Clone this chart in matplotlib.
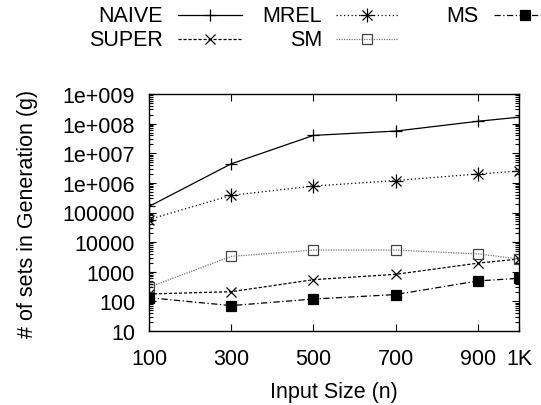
import matplotlib
matplotlib.use("Agg")
import matplotlib.pyplot as plt
from matplotlib.lines import Line2D
from matplotlib.ticker import LogLocator, NullFormatter, FixedLocator

plt.rcParams["font.family"] = ["Liberation Sans", "DejaVu Sans"]

# ── data ──────────────────────────────────────────────
sizes = [100, 300, 500, 700, 900, 1000]
size_labels = ["100", "300", "500", "700", "900", "1K"]

naive = [1.6e5, 4.4e6, 4.0e7, 5.6e7, 1.2e8, 1.65e8]
superr = [178, 212, 540, 820, 1950, 2700]
mrel = [5.8e4, 3.8e5, 7.8e5, 1.2e6, 2.0e6, 2.5e6]
sm = [300, 3300, 5400, 5400, 4000, 2700]
ms = [133, 72, 120, 170, 490, 600]

W, H = 541, 406
FS = 15.5

fig = plt.figure(figsize=(W / 100, H / 100), dpi=100)
ax = fig.add_axes([149 / W, 1 - 332 / H, 370 / W, 237 / H])

styles = {
    "NAIVE": dict(color="black", ls="-", marker="+", ms=9, mfc="none"),
    "SUPER": dict(color="black", ls=(0, (2.5, 1.5)), marker="x", ms=7, mfc="none"),
    "MREL": dict(color="black", ls=(0, (1, 2)), marker="+", ms=10, mfc="none"),
    "SM": dict(color="#777777", ls=(0, (1, 1)), marker="s", ms=7.5, mfc="none",
               mec="#444444"),
    "MS": dict(color="black", ls=(0, (5, 2, 1, 2)), marker="s", ms=7.5, mfc="black"),
}
series = {"NAIVE": naive, "SUPER": superr, "MREL": mrel, "SM": sm, "MS": ms}

for name, vals in series.items():
    st = dict(styles[name])
    ax.plot(sizes, vals, lw=0.9, mew=0.9, **st)
    if name == "MREL":
        # gnuplot star = plus + cross
        ax.plot(sizes, vals, ls="none", marker="x", ms=7, color="black", mew=0.9)

ax.set_yscale("log")
ax.set_ylim(10, 1e9)
ax.set_xlim(100, 1000)
ax.set_yticks([10 ** k for k in range(1, 10)])
ax.set_yticklabels(["10", "100", "1000", "10000", "100000",
                    "1e+006", "1e+007", "1e+008", "1e+009"])
ax.yaxis.set_minor_locator(LogLocator(base=10, subs=range(2, 10), numticks=20))
ax.yaxis.set_minor_formatter(NullFormatter())
ax.xaxis.set_major_locator(FixedLocator(sizes))
ax.set_xticklabels(size_labels)

ax.tick_params(which="both", direction="in", top=True, right=True,
               labelsize=FS, width=0.8)
ax.tick_params(which="major", length=5)
ax.tick_params(axis="y", which="major", pad=10)
ax.tick_params(axis="x", which="major", pad=12)
ax.tick_params(which="minor", length=3)
for sp in ax.spines.values():
    sp.set_linewidth(1.0)

ax.set_xlabel("Input Size (n)", fontsize=FS, labelpad=9)
ax.set_ylabel("# of sets in Generation (g)", fontsize=FS, labelpad=18)


# ── legend drawn gnuplot-style at the top ─────────────
def fx(x):
    return x / W


def fy(y):
    return 1 - y / H


legend = [
    ("NAIVE", 163, 178, 242, 16),
    ("SUPER", 163, 178, 242, 40),
    ("MREL", 322, 336, 398, 16),
    ("SM", 322, 336, 398, 40),
    ("MS", 479, 494, 556, 16),
]
for name, tx, x0, x1, y in legend:
    fig.text(fx(tx), fy(y), name, ha="right", va="center", fontsize=FS)
    st = dict(styles[name])
    mk = dict(marker=st.pop("marker"), ms=st.pop("ms"), mfc=st.pop("mfc"),
              mec=st.pop("mec", st["color"]))
    fig.add_artist(Line2D([fx(x0), fx(x1)], [fy(y), fy(y)], lw=0.9,
                          transform=fig.transFigure, **st))
    xm = (x0 + x1) / 2
    fig.add_artist(Line2D([fx(xm)], [fy(y)], ls="none", mew=0.9,
                          transform=fig.transFigure, **mk))
    if name == "MREL":
        fig.add_artist(Line2D([fx(xm)], [fy(y)], ls="none", marker="x", ms=7,
                              color="black", mew=0.9, transform=fig.transFigure))

fig.savefig("out.png", dpi=100)
